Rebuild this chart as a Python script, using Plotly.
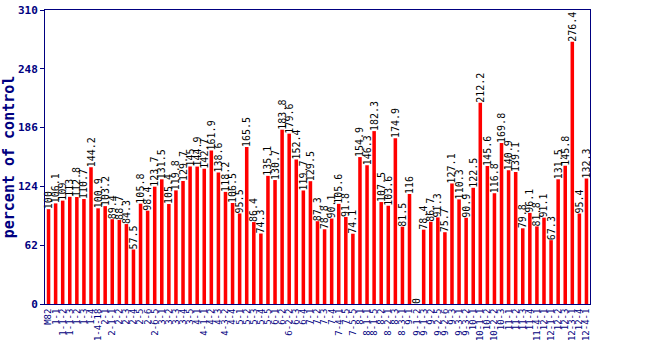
import plotly.graph_objects as go

categories = ["M82", "1-1", "1-1-2", "1-1-3", "1-2", "1-3", "1-4", "1-4-18",
              "2-1", "2-1-1", "2-2", "2-3", "2-4", "2-5", "2-6", "2-6-5",
              "3-1", "3-2", "3-3", "3-4", "3-5",
              "4-1", "4-1-1", "4-2", "4-3", "4-3-2", "4-4",
              "5-1", "5-2", "5-3", "5-4", "5-5",
              "6-1", "6-2", "6-2-2", "6-3", "6-4",
              "7-1", "7-2", "7-3", "7-4", "7-4-1", "7-5", "7-5-5",
              "8-1", "8-1-1", "8-1-5", "8-2", "8-2-1", "8-3", "8-3-1",
              "9-1", "9-1-2", "9-1-3", "9-2", "9-2-5", "9-2-6", "9-3", "9-3-1", "9-3-2",
              "10-1", "10-1-1", "10-2", "10-2-2", "10-3",
              "11-1", "11-2", "11-3", "11-4", "11-4-1",
              "12-1", "12-1-1", "12-2", "12-3", "12-3-1", "12-4", "12-4-1"]

values = [100, 106.1, 109, 113, 112.8, 110.7, 144.2, 100.9,
          103.2, 89.4, 88.7, 84.3, 57.5, 105.8, 98.4, 123.7,
          131.5, 105.4, 119.8, 129.7, 145,
          144.9, 142.7, 161.9, 138.6, 118.2, 106.5,
          95.5, 165.5, 86.4, 74.3, 135.1,
          130.7, 183.8, 179.6, 152.4, 119.7,
          129.5, 87.3, 78.8, 90.1, 105.6, 91.8, 74.1,
          154.9, 146.3, 182.3, 107.5, 103.6, 174.9, 81.5,
          116, 0, 78.4, 86.7, 91.3, 75.7, 127.1, 110.3, 90.9,
          122.5, 212.2, 145.6, 116.8, 169.8,
          140.9, 139.1, 79.8, 96.1, 81.8,
          91.1, 67.3, 131.5, 145.8, 276.4, 95.4, 132.3]

y_ticks = [0, 62, 124, 186, 248, 310]

labels = [("%g" % v) for v in values]

navy = "#000080"

fig = go.Figure(go.Bar(
    x=categories, y=values,
    marker=dict(color="#ff0000", line=dict(width=0)),
    text=labels, textposition="outside", textangle=-90,
    constraintext="none",
    textfont=dict(family="DejaVu Sans Mono", size=10, color="#000000"),
    cliponaxis=False,
))

fig.update_layout(
    width=650, height=350,
    margin=dict(l=45, r=60, t=10, b=46),
    paper_bgcolor="white", plot_bgcolor="white",
    bargap=0.5,
    showlegend=False,
    xaxis=dict(
        type="category", tickangle=-90,
        tickmode="array", tickvals=categories, ticktext=categories,
        tickfont=dict(family="DejaVu Sans Mono", size=9, color=navy),
        showline=True, linecolor=navy, linewidth=1, mirror=True,
        ticks="", showgrid=False, range=[-0.5, len(categories) - 0.5],
        automargin=False,
    ),
    yaxis=dict(
        range=[0, 310], tickvals=y_ticks,
        tickfont=dict(family="DejaVu Sans Mono", size=11, color=navy, weight="bold"),
        showline=True, linecolor=navy, linewidth=1, mirror=True,
        ticks="outside", ticklen=4, tickcolor=navy,
        showgrid=False, zeroline=False,
        title=dict(text="percent of control",
                   font=dict(family="DejaVu Sans Mono", size=15, color=navy, weight="bold"),
                   standoff=6),
        automargin=False,
    ),
)

fig.write_html("out.html")
